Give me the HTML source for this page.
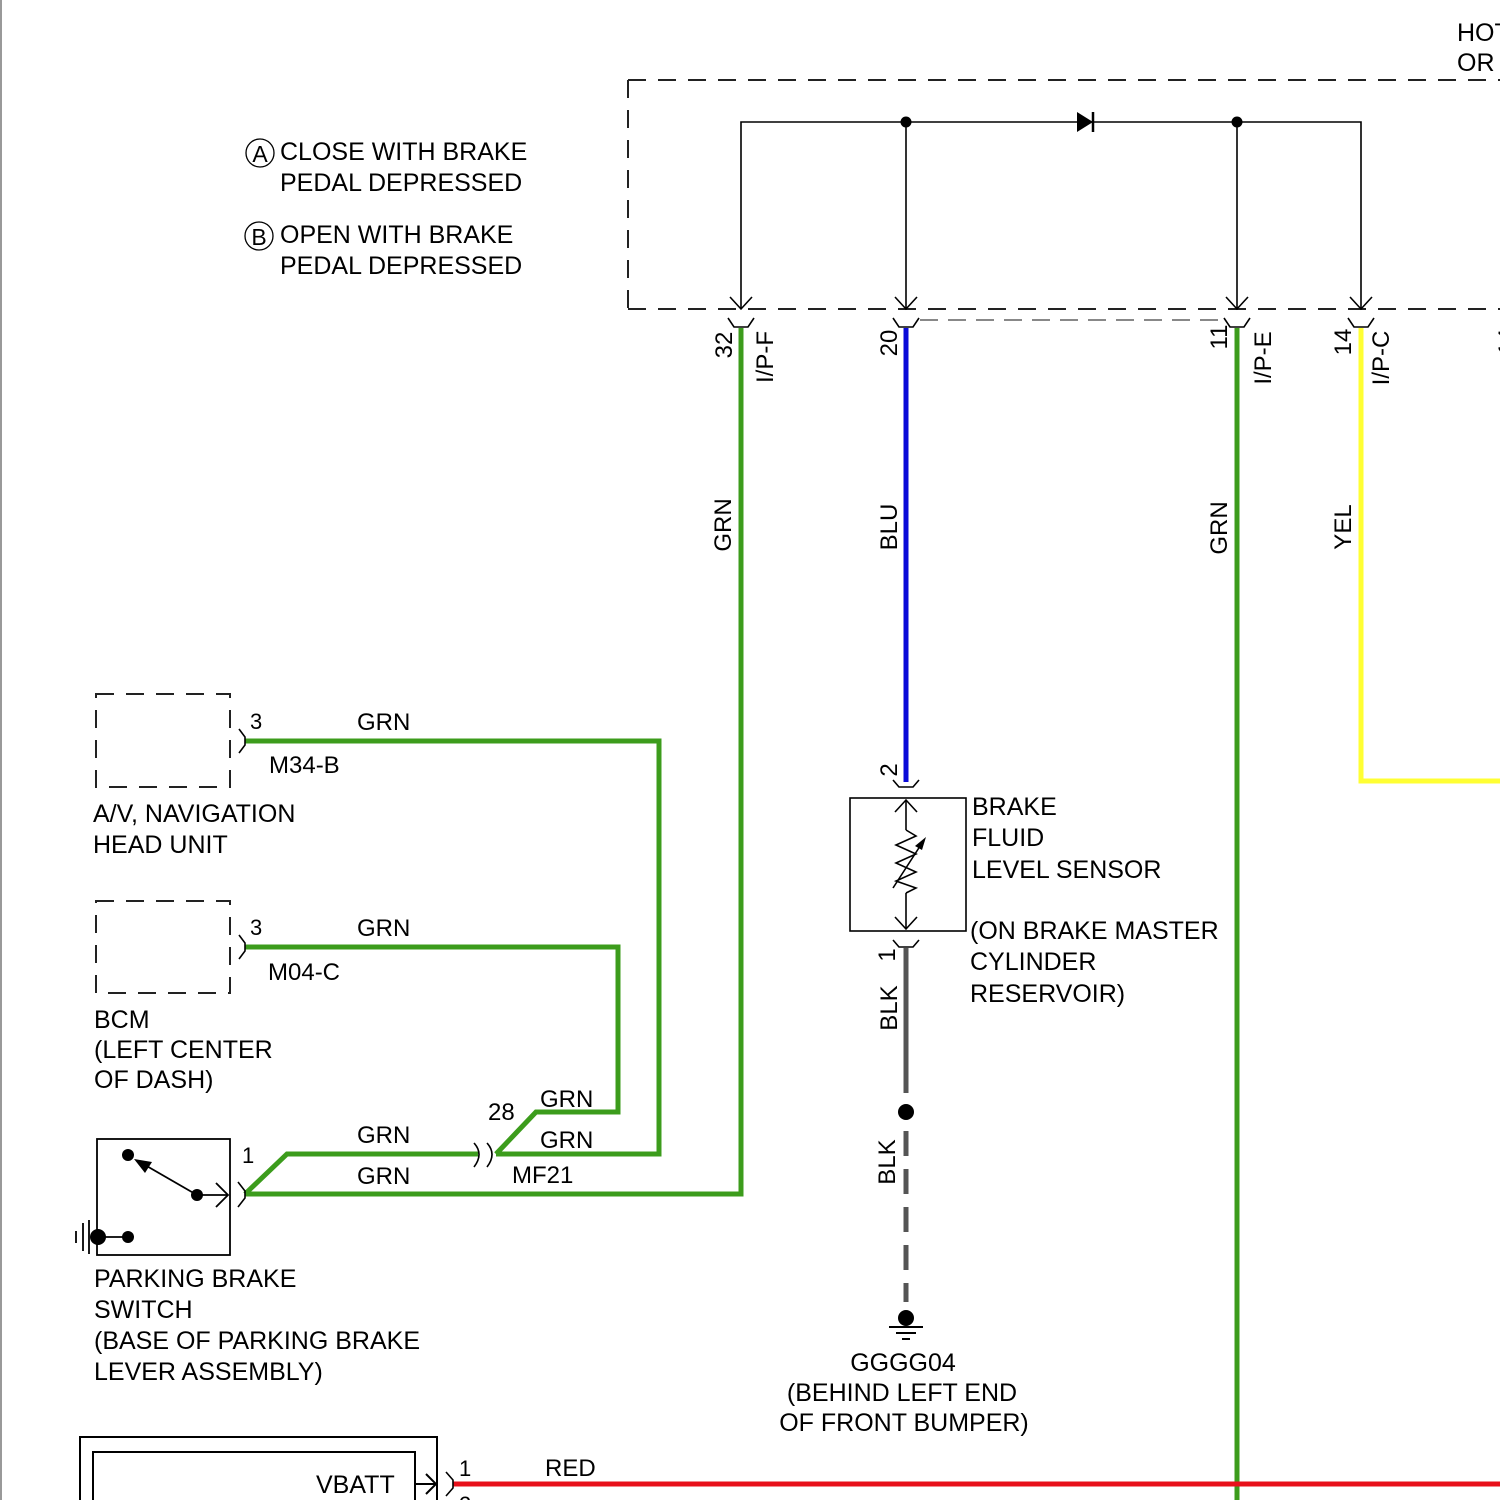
<!DOCTYPE html>
<html><head><meta charset="utf-8"><style>
html,body{margin:0;padding:0;background:#fff;}
svg{display:block;}
text{font-family:"Liberation Sans",Arial,sans-serif;fill:#000;}
</style></head><body>
<svg width="1500" height="1500" viewBox="0 0 1500 1500" xmlns="http://www.w3.org/2000/svg">
<rect width="1500" height="1500" fill="#fff"/>
<line x1="1" y1="0" x2="1" y2="1500" stroke="#999" stroke-width="2"/>

<!-- Legend -->
<circle cx="260" cy="153" r="14" fill="none" stroke="#000" stroke-width="1.3"/>
<text x="260" y="162" font-size="23" text-anchor="middle">A</text>
<circle cx="259" cy="236" r="14" fill="none" stroke="#000" stroke-width="1.3"/>
<text x="259" y="245" font-size="23" text-anchor="middle">B</text>
<g font-size="25">
<text x="280" y="160">CLOSE WITH BRAKE</text>
<text x="280" y="191">PEDAL DEPRESSED</text>
<text x="280" y="243">OPEN WITH BRAKE</text>
<text x="280" y="274">PEDAL DEPRESSED</text>
<text x="1457" y="41">HOT</text>
<text x="1457" y="71">OR</text>
</g>

<!-- Module dashed box -->
<g stroke="#222" stroke-width="2" fill="none" stroke-dasharray="18,12">
<line x1="628" y1="80" x2="1500" y2="80"/>
<line x1="628" y1="309" x2="1500" y2="309"/>
<line x1="628" y1="80" x2="628" y2="309"/>
</g>
<!-- internal circuit -->
<g stroke="#000" stroke-width="1.6" fill="none">
<polyline points="741,309 741,122 1361,122 1361,309"/>
<line x1="906" y1="122" x2="906" y2="309"/>
<line x1="1237" y1="122" x2="1237" y2="309"/>
<polyline points="730,297 741,309 752,297"/>
<polyline points="895,297 906,309 917,297"/>
<polyline points="1226,297 1237,309 1248,297"/>
<polyline points="1350,297 1361,309 1372,297"/>
<line x1="1093" y1="112" x2="1093" y2="132" stroke-width="2.5"/>
</g>
<polygon points="1077,112 1077,132 1093,122" fill="#000"/>
<circle cx="906" cy="122" r="5.5" fill="#000"/>
<circle cx="1237" cy="122" r="5.5" fill="#000"/>

<!-- pin connectors below box -->
<g stroke="#000" stroke-width="1.6" fill="none">
<polyline points="728,318 734,327 748,327 754,318"/>
<polyline points="893,318 899,327 913,327 919,318"/>
<polyline points="1224,318 1230,327 1244,327 1250,318"/>
<polyline points="1348,318 1354,327 1368,327 1374,318"/>
</g>
<line x1="920" y1="320" x2="1224" y2="320" stroke="#888" stroke-width="2" stroke-dasharray="18,10"/>

<!-- wires -->
<g fill="none" stroke-width="5" stroke-linejoin="miter">
<polyline stroke="#3c9c1c" points="741,328 741,1194 245,1194"/>
<line stroke="#0a0ad8" x1="906" y1="328" x2="906" y2="782"/>
<line stroke="#3c9c1c" x1="1237" y1="328" x2="1237" y2="1500"/>
<polyline stroke="#ffff33" points="1361,328 1361,781 1500,781"/>
<line stroke="#e8101a" x1="453" y1="1484" x2="1500" y2="1484"/>
<polyline stroke="#3c9c1c" points="245,741 659,741 659,1154 496,1154"/>
<polyline stroke="#3c9c1c" points="245,947 618,947 618,1112 536,1112 496,1154"/>
<polyline stroke="#3c9c1c" points="245,1194 287,1154 478,1154"/>
<line stroke="#555" x1="906" y1="948" x2="906" y2="1093"/>
<line stroke="#555" x1="906" y1="1131" x2="906" y2="1302" stroke-dasharray="25,13"/>
</g>

<!-- rotated labels -->
<g font-size="24" text-anchor="middle">
<text transform="translate(723,345) rotate(-90)" y="9">32</text>
<text transform="translate(764,357) rotate(-90)" y="9">I/P-F</text>
<text transform="translate(888,343) rotate(-90)" y="9">20</text>
<text transform="translate(1218,337) rotate(-90)" y="9">11</text>
<text transform="translate(1262,358) rotate(-90)" y="9">I/P-E</text>
<text transform="translate(1342,342) rotate(-90)" y="9">14</text>
<text transform="translate(1380,358) rotate(-90)" y="9">I/P-C</text>
<text transform="translate(1506,342) rotate(-90)" y="9">14</text>
<text transform="translate(722,525) rotate(-90)" y="9">GRN</text>
<text transform="translate(888,527) rotate(-90)" y="9">BLU</text>
<text transform="translate(1218,528) rotate(-90)" y="9">GRN</text>
<text transform="translate(1342,527) rotate(-90)" y="9">YEL</text>
<text transform="translate(888,770) rotate(-90)" y="9">2</text>
<text transform="translate(886,955) rotate(-90)" y="9">1</text>
<text transform="translate(888,1008) rotate(-90)" y="9">BLK</text>
<text transform="translate(886,1162) rotate(-90)" y="9">BLK</text>
</g>

<!-- brake fluid level sensor -->
<g stroke="#000" stroke-width="1.6" fill="none">
<polyline points="893,780 899,787 913,787 919,780"/>
<rect x="850" y="798" width="116" height="133"/>
<line x1="906" y1="800" x2="906" y2="830"/>
<polyline points="895,812 906,800 917,812"/>
<polyline points="906,830 916,836 896,845 916,854 896,863 916,872 896,881 916,888 906,893"/>
<line x1="906" y1="893" x2="906" y2="929"/>
<polyline points="895,917 906,929 917,917"/>
<line x1="893" y1="888" x2="924" y2="840"/>
<polyline points="893,940 899,947 913,947 919,940"/>
</g>
<polygon points="926,837 915,846 922,850" fill="#000"/>
<g font-size="25">
<text x="972" y="815">BRAKE</text>
<text x="972" y="846">FLUID</text>
<text x="972" y="878">LEVEL SENSOR</text>
<text x="970" y="939">(ON BRAKE MASTER</text>
<text x="970" y="970">CYLINDER</text>
<text x="970" y="1002">RESERVOIR)</text>
</g>
<circle cx="906" cy="1112" r="8" fill="#000"/>
<circle cx="906" cy="1318" r="8" fill="#000"/>
<g stroke="#000" stroke-width="2">
<line x1="889" y1="1327" x2="923" y2="1327"/>
<line x1="896" y1="1333" x2="916" y2="1333"/>
<line x1="902" y1="1339" x2="910" y2="1339"/>
</g>
<g font-size="25" text-anchor="middle">
<text x="903" y="1371">GGGG04</text>
<text x="902" y="1401">(BEHIND LEFT END</text>
<text x="904" y="1431">OF FRONT BUMPER)</text>
</g>

<!-- A/V head unit -->
<g stroke="#222" stroke-width="2" fill="none" stroke-dasharray="18,12">
<rect x="96" y="694" width="134" height="93"/>
<rect x="96" y="901" width="134" height="92"/>
</g>
<g stroke="#000" stroke-width="1.6" fill="none">
<polyline points="239,729 245,737 245,745 239,753"/>
<polyline points="239,935 245,943 245,951 239,959"/>
<polyline points="238,1182 245,1191 245,1198 238,1207"/>
<path d="M474,1143 Q484,1154 474,1167"/>
<path d="M487,1143 Q497,1154 487,1167"/>
<polyline points="446,1472 453,1480 453,1488 446,1496"/>
</g>
<g font-size="24">
<text x="250" y="729" font-size="22">3</text>
<text x="357" y="730">GRN</text>
<text x="269" y="773">M34-B</text>
<text x="250" y="935" font-size="22">3</text>
<text x="357" y="936">GRN</text>
<text x="268" y="980">M04-C</text>
<text x="488" y="1120">28</text>
<text x="540" y="1107">GRN</text>
<text x="540" y="1148">GRN</text>
<text x="357" y="1143">GRN</text>
<text x="357" y="1184">GRN</text>
<text x="512" y="1183">MF21</text>
<text x="242" y="1163" font-size="22">1</text>
<text x="459" y="1476" font-size="22">1</text>
<text x="459" y="1512" font-size="22">2</text>
<text x="545" y="1476">RED</text>
</g>
<g font-size="25">
<text x="93" y="822">A/V, NAVIGATION</text>
<text x="93" y="853">HEAD UNIT</text>
<text x="94" y="1028">BCM</text>
<text x="94" y="1058">(LEFT CENTER</text>
<text x="94" y="1088">OF DASH)</text>
<text x="94" y="1287">PARKING BRAKE</text>
<text x="94" y="1318">SWITCH</text>
<text x="94" y="1349">(BASE OF PARKING BRAKE</text>
<text x="94" y="1380">LEVER ASSEMBLY)</text>
</g>

<!-- parking brake switch -->
<g stroke="#000" stroke-width="1.8" fill="none">
<rect x="97" y="1139" width="133" height="116"/>
<line x1="197" y1="1195" x2="145" y2="1165"/>
<line x1="197" y1="1195" x2="228" y2="1195"/>
<polyline points="216,1183 228,1195 216,1207"/>
<line x1="98" y1="1237" x2="128" y2="1237"/>
<line x1="76" y1="1231" x2="76" y2="1243"/>
<line x1="83" y1="1223" x2="83" y2="1251"/>
<line x1="89" y1="1220" x2="89" y2="1254"/>
</g>
<polygon points="134,1159 152,1162 145,1173" fill="#000"/>
<circle cx="128" cy="1155" r="6" fill="#000"/>
<circle cx="197" cy="1195" r="6" fill="#000"/>
<circle cx="98" cy="1237" r="8" fill="#000"/>
<circle cx="128" cy="1237" r="6" fill="#000"/>

<!-- VBATT -->
<g stroke="#000" stroke-width="2" fill="none">
<polyline points="80,1500 80,1437 437,1437 437,1500"/>
<polyline points="93,1500 93,1452 415,1452 415,1500"/>
<line x1="415" y1="1484" x2="436" y2="1484"/>
<polyline points="426,1474 436,1484 426,1494"/>
</g>
<text x="316" y="1493" font-size="25">VBATT</text>
</svg>
</body></html>
